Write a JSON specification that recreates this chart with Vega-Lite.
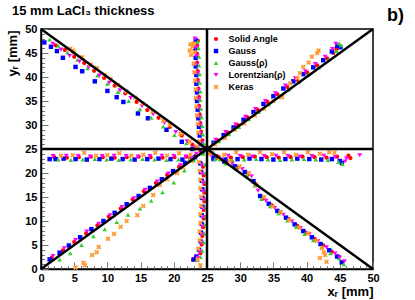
{
"$schema": "https://vega.github.io/schema/vega-lite/v6.json",
"width": 332, "height": 240,
"autosize": {"type": "none"},
"padding": {"left": 41, "top": 29, "right": 42, "bottom": 31},
"background": "white",
"config": {"view": {"stroke": "black", "strokeWidth": 1.5}, "font": "Liberation Sans"},
"title": {"text": "15 mm LaCl₃ thickness", "anchor": "start", "frame": "group", "dx": -29, "dy": 16, "offset": 4, "fontSize": 13, "fontWeight": "bold", "font": "Liberation Sans", "color": "black"},
"datasets": {
"ln": [
{"l":"d1","x":0,"y":0},{"l":"d1","x":50,"y":50},
{"l":"d2","x":0,"y":50},{"l":"d2","x":50,"y":0},
{"l":"v","x":25,"y":0},{"l":"v","x":25,"y":50},
{"l":"h","x":0,"y":25},{"l":"h","x":50,"y":25}
],
"pts": [
{"s":"SA","x":1.6,"y":2.3},{"s":"SA","x":3.3,"y":3.9},{"s":"SA","x":5.0,"y":5.6},{"s":"SA","x":6.8,"y":7.4},{"s":"SA","x":8.5,"y":9.1},{"s":"SA","x":10.2,"y":10.9},{"s":"SA","x":12.0,"y":12.6},{"s":"SA","x":13.8,"y":14.5},{"s":"SA","x":15.5,"y":16.2},{"s":"SA","x":17.3,"y":17.9},{"s":"SA","x":19.0,"y":19.6},{"s":"SA","x":20.8,"y":21.3},{"s":"SA","x":22.5,"y":23.0},
{"s":"SA","x":2.2,"y":46.6},{"s":"SA","x":3.6,"y":45.6},{"s":"SA","x":5.0,"y":44.2},{"s":"SA","x":6.5,"y":42.9},{"s":"SA","x":8.0,"y":41.3},{"s":"SA","x":9.5,"y":39.8},{"s":"SA","x":11.1,"y":38.2},{"s":"SA","x":12.7,"y":36.6},{"s":"SA","x":14.4,"y":34.8},{"s":"SA","x":16.0,"y":33.1},{"s":"SA","x":17.7,"y":31.5},{"s":"SA","x":19.4,"y":29.6},{"s":"SA","x":21.2,"y":27.8},{"s":"SA","x":22.8,"y":25.9},
{"s":"SA","x":26.6,"y":26.8},{"s":"SA","x":28.1,"y":28.4},{"s":"SA","x":29.6,"y":30.0},{"s":"SA","x":31.1,"y":31.6},{"s":"SA","x":32.6,"y":33.2},{"s":"SA","x":34.1,"y":34.8},{"s":"SA","x":35.6,"y":36.4},{"s":"SA","x":37.1,"y":37.9},{"s":"SA","x":38.6,"y":39.4},{"s":"SA","x":40.1,"y":40.9},{"s":"SA","x":41.6,"y":42.4},{"s":"SA","x":43.1,"y":43.9},{"s":"SA","x":44.0,"y":45.0},{"s":"SA","x":44.5,"y":45.8},
{"s":"SA","x":26.4,"y":23.1},{"s":"SA","x":28.0,"y":22.2},{"s":"SA","x":29.6,"y":21.1},{"s":"SA","x":31.2,"y":19.8},{"s":"SA","x":32.3,"y":17.7},{"s":"SA","x":33.4,"y":14.7},{"s":"SA","x":34.7,"y":13.3},{"s":"SA","x":36.0,"y":11.8},{"s":"SA","x":37.3,"y":10.4},{"s":"SA","x":38.6,"y":9.0},{"s":"SA","x":39.9,"y":7.6},{"s":"SA","x":41.2,"y":6.3},{"s":"SA","x":42.5,"y":4.9},{"s":"SA","x":43.8,"y":3.6},{"s":"SA","x":44.8,"y":2.6},
{"s":"SA","x":2.0,"y":23.3},{"s":"SA","x":3.9,"y":23.2},{"s":"SA","x":5.7,"y":23.3},{"s":"SA","x":7.5,"y":23.4},{"s":"SA","x":9.3,"y":23.3},{"s":"SA","x":11.1,"y":23.2},{"s":"SA","x":12.9,"y":23.3},{"s":"SA","x":14.7,"y":23.4},{"s":"SA","x":16.5,"y":23.3},{"s":"SA","x":18.3,"y":23.2},{"s":"SA","x":20.1,"y":23.3},{"s":"SA","x":21.9,"y":23.4},{"s":"SA","x":23.3,"y":23.6},
{"s":"SA","x":26.8,"y":23.3},{"s":"SA","x":28.6,"y":23.2},{"s":"SA","x":30.4,"y":23.3},{"s":"SA","x":32.2,"y":23.4},{"s":"SA","x":34.0,"y":23.3},{"s":"SA","x":35.8,"y":23.2},{"s":"SA","x":37.6,"y":23.3},{"s":"SA","x":39.4,"y":23.4},{"s":"SA","x":41.2,"y":23.3},{"s":"SA","x":43.0,"y":23.2},{"s":"SA","x":44.6,"y":23.4},{"s":"SA","x":46.3,"y":23.6},{"s":"SA","x":46.6,"y":23.1},
{"s":"SA","x":24.3,"y":26.8},{"s":"SA","x":24.1,"y":28.6},{"s":"SA","x":24.0,"y":30.4},{"s":"SA","x":23.9,"y":32.2},{"s":"SA","x":23.8,"y":34.0},{"s":"SA","x":23.8,"y":35.8},{"s":"SA","x":23.7,"y":37.6},{"s":"SA","x":23.6,"y":39.4},{"s":"SA","x":23.6,"y":41.2},{"s":"SA","x":23.5,"y":43.0},{"s":"SA","x":23.5,"y":44.8},{"s":"SA","x":23.5,"y":46.6},{"s":"SA","x":23.6,"y":47.6},
{"s":"SA","x":24.4,"y":21.3},{"s":"SA","x":24.5,"y":19.5},{"s":"SA","x":24.6,"y":17.7},{"s":"SA","x":24.6,"y":15.9},{"s":"SA","x":24.6,"y":14.1},{"s":"SA","x":24.5,"y":12.3},{"s":"SA","x":24.5,"y":10.5},{"s":"SA","x":24.4,"y":8.7},{"s":"SA","x":24.3,"y":6.9},{"s":"SA","x":24.2,"y":5.1},{"s":"SA","x":24.0,"y":3.3},{"s":"SA","x":23.3,"y":2.4},{"s":"SA","x":22.9,"y":1.9},
{"s":"SA","x":24.0,"y":24.6},
{"s":"G","x":1.3,"y":2.0},{"s":"G","x":2.8,"y":3.4},{"s":"G","x":4.2,"y":4.9},{"s":"G","x":5.9,"y":6.6},{"s":"G","x":7.6,"y":8.3},{"s":"G","x":9.4,"y":10.0},{"s":"G","x":11.1,"y":11.7},{"s":"G","x":12.9,"y":13.5},{"s":"G","x":14.7,"y":15.2},{"s":"G","x":16.4,"y":16.9},{"s":"G","x":18.2,"y":18.7},{"s":"G","x":19.9,"y":20.4},{"s":"G","x":21.7,"y":22.1},{"s":"G","x":23.2,"y":23.3},
{"s":"G","x":0.5,"y":47.2},{"s":"G","x":1.5,"y":46.3},{"s":"G","x":2.4,"y":45.4},{"s":"G","x":3.3,"y":44.0},{"s":"G","x":5.2,"y":42.1},{"s":"G","x":6.2,"y":41.2},{"s":"G","x":8.1,"y":39.1},{"s":"G","x":10.0,"y":37.1},{"s":"G","x":11.4,"y":35.8},{"s":"G","x":12.4,"y":34.8},{"s":"G","x":14.6,"y":32.4},{"s":"G","x":16.1,"y":31.4},{"s":"G","x":18.9,"y":29.0},{"s":"G","x":21.2,"y":26.5},{"s":"G","x":22.8,"y":25.0},
{"s":"G","x":26.0,"y":26.3},{"s":"G","x":27.5,"y":27.9},{"s":"G","x":29.0,"y":29.5},{"s":"G","x":30.5,"y":31.1},{"s":"G","x":32.0,"y":32.7},{"s":"G","x":33.5,"y":34.4},{"s":"G","x":35.0,"y":36.0},{"s":"G","x":36.5,"y":37.6},{"s":"G","x":38.0,"y":39.1},{"s":"G","x":39.5,"y":40.6},{"s":"G","x":41.0,"y":42.0},{"s":"G","x":42.5,"y":43.5},{"s":"G","x":43.8,"y":45.3},{"s":"G","x":44.6,"y":46.5},{"s":"G","x":45.1,"y":46.2},
{"s":"G","x":26.0,"y":23.2},{"s":"G","x":27.6,"y":22.4},{"s":"G","x":29.2,"y":21.4},{"s":"G","x":30.7,"y":20.2},{"s":"G","x":32.0,"y":18.3},{"s":"G","x":33.0,"y":15.2},{"s":"G","x":34.3,"y":13.6},{"s":"G","x":35.6,"y":12.1},{"s":"G","x":36.9,"y":10.7},{"s":"G","x":38.2,"y":9.3},{"s":"G","x":39.5,"y":7.9},{"s":"G","x":40.8,"y":6.6},{"s":"G","x":42.1,"y":5.2},{"s":"G","x":43.4,"y":3.9},{"s":"G","x":44.6,"y":2.6},{"s":"G","x":45.3,"y":1.4},
{"s":"G","x":1.3,"y":22.9},{"s":"G","x":2.2,"y":22.9},{"s":"G","x":3.4,"y":23.0},{"s":"G","x":5.2,"y":22.9},{"s":"G","x":6.9,"y":22.8},{"s":"G","x":8.8,"y":22.9},{"s":"G","x":10.6,"y":23.0},{"s":"G","x":12.3,"y":22.9},{"s":"G","x":14.1,"y":22.8},{"s":"G","x":16.0,"y":22.9},{"s":"G","x":17.7,"y":23.0},{"s":"G","x":19.5,"y":22.9},{"s":"G","x":21.3,"y":22.8},{"s":"G","x":22.9,"y":23.0},
{"s":"G","x":26.0,"y":22.9},{"s":"G","x":27.8,"y":22.8},{"s":"G","x":29.6,"y":22.9},{"s":"G","x":31.4,"y":23.0},{"s":"G","x":33.2,"y":22.9},{"s":"G","x":35.0,"y":22.8},{"s":"G","x":36.8,"y":22.9},{"s":"G","x":38.6,"y":23.0},{"s":"G","x":40.4,"y":22.9},{"s":"G","x":42.2,"y":22.8},{"s":"G","x":43.8,"y":22.9},{"s":"G","x":45.0,"y":22.5},{"s":"G","x":45.3,"y":22.1},
{"s":"G","x":24.0,"y":26.0},{"s":"G","x":23.9,"y":27.8},{"s":"G","x":23.8,"y":29.6},{"s":"G","x":23.7,"y":31.4},{"s":"G","x":23.6,"y":33.2},{"s":"G","x":23.5,"y":35.0},{"s":"G","x":23.5,"y":36.8},{"s":"G","x":23.4,"y":38.6},{"s":"G","x":23.4,"y":40.4},{"s":"G","x":23.3,"y":42.2},{"s":"G","x":23.3,"y":44.0},{"s":"G","x":23.2,"y":45.8},{"s":"G","x":23.3,"y":47.6},
{"s":"G","x":24.0,"y":22.0},{"s":"G","x":24.1,"y":20.2},{"s":"G","x":24.2,"y":18.4},{"s":"G","x":24.3,"y":16.6},{"s":"G","x":24.3,"y":14.8},{"s":"G","x":24.3,"y":13.0},{"s":"G","x":24.2,"y":11.2},{"s":"G","x":24.2,"y":9.4},{"s":"G","x":24.1,"y":7.6},{"s":"G","x":24.0,"y":5.8},{"s":"G","x":23.8,"y":4.0},{"s":"G","x":23.4,"y":2.6},{"s":"G","x":23.0,"y":2.0},
{"s":"G","x":24.3,"y":24.3},
{"s":"Gr","x":2.8,"y":2.0},{"s":"Gr","x":4.4,"y":3.3},{"s":"Gr","x":6.1,"y":5.0},{"s":"Gr","x":7.9,"y":6.8},{"s":"Gr","x":9.6,"y":8.3},{"s":"Gr","x":11.4,"y":9.8},{"s":"Gr","x":13.1,"y":11.3},{"s":"Gr","x":14.9,"y":12.6},{"s":"Gr","x":16.6,"y":14.2},{"s":"Gr","x":18.3,"y":16.0},{"s":"Gr","x":20.0,"y":18.0},{"s":"Gr","x":21.6,"y":20.5},{"s":"Gr","x":23.0,"y":22.6},
{"s":"Gr","x":1.3,"y":47.8},{"s":"Gr","x":2.6,"y":46.5},{"s":"Gr","x":4.0,"y":45.1},{"s":"Gr","x":5.5,"y":43.6},{"s":"Gr","x":7.0,"y":41.8},{"s":"Gr","x":8.5,"y":40.3},{"s":"Gr","x":10.0,"y":38.6},{"s":"Gr","x":11.6,"y":36.9},{"s":"Gr","x":13.2,"y":35.0},{"s":"Gr","x":14.9,"y":33.3},{"s":"Gr","x":16.6,"y":31.5},{"s":"Gr","x":18.4,"y":29.7},{"s":"Gr","x":20.1,"y":27.9},{"s":"Gr","x":21.9,"y":26.2},{"s":"Gr","x":23.2,"y":25.1},
{"s":"Gr","x":26.8,"y":26.6},{"s":"Gr","x":28.3,"y":28.1},{"s":"Gr","x":29.8,"y":29.6},{"s":"Gr","x":31.3,"y":31.2},{"s":"Gr","x":32.8,"y":32.7},{"s":"Gr","x":34.3,"y":34.3},{"s":"Gr","x":35.8,"y":35.9},{"s":"Gr","x":37.3,"y":37.4},{"s":"Gr","x":38.8,"y":38.9},{"s":"Gr","x":40.3,"y":40.5},{"s":"Gr","x":41.8,"y":42.0},{"s":"Gr","x":43.3,"y":43.6},{"s":"Gr","x":44.5,"y":45.4},{"s":"Gr","x":45.2,"y":46.6},{"s":"Gr","x":44.9,"y":47.0},
{"s":"Gr","x":26.2,"y":22.9},{"s":"Gr","x":27.8,"y":22.0},{"s":"Gr","x":29.4,"y":21.0},{"s":"Gr","x":31.0,"y":19.6},{"s":"Gr","x":32.2,"y":17.4},{"s":"Gr","x":33.2,"y":14.6},{"s":"Gr","x":34.5,"y":13.1},{"s":"Gr","x":35.8,"y":11.6},{"s":"Gr","x":37.1,"y":10.1},{"s":"Gr","x":38.4,"y":8.8},{"s":"Gr","x":39.7,"y":7.3},{"s":"Gr","x":41.0,"y":6.0},{"s":"Gr","x":42.3,"y":4.6},{"s":"Gr","x":43.6,"y":3.3},{"s":"Gr","x":44.9,"y":2.2},{"s":"Gr","x":45.6,"y":1.0},
{"s":"Gr","x":2.6,"y":22.8},{"s":"Gr","x":4.5,"y":22.7},{"s":"Gr","x":6.3,"y":22.8},{"s":"Gr","x":8.1,"y":22.9},{"s":"Gr","x":9.9,"y":22.8},{"s":"Gr","x":11.7,"y":22.7},{"s":"Gr","x":13.5,"y":22.8},{"s":"Gr","x":15.3,"y":22.9},{"s":"Gr","x":17.1,"y":22.8},{"s":"Gr","x":18.9,"y":22.7},{"s":"Gr","x":20.7,"y":22.8},{"s":"Gr","x":22.4,"y":22.9},
{"s":"Gr","x":27.0,"y":22.8},{"s":"Gr","x":28.8,"y":22.7},{"s":"Gr","x":30.6,"y":22.8},{"s":"Gr","x":32.4,"y":22.9},{"s":"Gr","x":34.2,"y":22.8},{"s":"Gr","x":36.0,"y":22.7},{"s":"Gr","x":37.8,"y":22.8},{"s":"Gr","x":39.6,"y":22.9},{"s":"Gr","x":41.4,"y":22.8},{"s":"Gr","x":43.2,"y":22.7},{"s":"Gr","x":44.8,"y":22.3},{"s":"Gr","x":45.4,"y":21.9},
{"s":"Gr","x":24.5,"y":26.2},{"s":"Gr","x":24.4,"y":28.0},{"s":"Gr","x":24.3,"y":29.8},{"s":"Gr","x":24.2,"y":31.6},{"s":"Gr","x":24.1,"y":33.4},{"s":"Gr","x":24.0,"y":35.2},{"s":"Gr","x":24.0,"y":37.0},{"s":"Gr","x":23.9,"y":38.8},{"s":"Gr","x":23.9,"y":40.6},{"s":"Gr","x":23.8,"y":42.4},{"s":"Gr","x":23.8,"y":44.2},{"s":"Gr","x":23.7,"y":46.0},{"s":"Gr","x":23.6,"y":47.4},
{"s":"Gr","x":24.7,"y":21.8},{"s":"Gr","x":24.8,"y":20.0},{"s":"Gr","x":24.9,"y":18.2},{"s":"Gr","x":24.9,"y":16.4},{"s":"Gr","x":24.9,"y":14.6},{"s":"Gr","x":24.8,"y":12.8},{"s":"Gr","x":24.8,"y":11.0},{"s":"Gr","x":24.7,"y":9.2},{"s":"Gr","x":24.6,"y":7.4},{"s":"Gr","x":24.5,"y":5.6},{"s":"Gr","x":24.3,"y":3.8},{"s":"Gr","x":24.0,"y":2.5},{"s":"Gr","x":23.5,"y":1.8},
{"s":"Gr","x":24.4,"y":24.0},
{"s":"Lr","x":1.8,"y":2.7},{"s":"Lr","x":3.5,"y":4.3},{"s":"Lr","x":5.2,"y":6.0},{"s":"Lr","x":6.9,"y":7.8},{"s":"Lr","x":8.7,"y":9.4},{"s":"Lr","x":10.4,"y":11.2},{"s":"Lr","x":12.2,"y":12.9},{"s":"Lr","x":14.0,"y":14.7},{"s":"Lr","x":15.7,"y":16.5},{"s":"Lr","x":17.5,"y":18.2},{"s":"Lr","x":19.2,"y":19.9},{"s":"Lr","x":21.0,"y":21.6},{"s":"Lr","x":22.7,"y":23.2},
{"s":"Lr","x":1.8,"y":46.9},{"s":"Lr","x":3.0,"y":45.7},{"s":"Lr","x":4.3,"y":44.4},{"s":"Lr","x":5.8,"y":43.2},{"s":"Lr","x":7.2,"y":42.0},{"s":"Lr","x":8.8,"y":40.3},{"s":"Lr","x":10.3,"y":38.8},{"s":"Lr","x":11.9,"y":37.2},{"s":"Lr","x":13.5,"y":35.6},{"s":"Lr","x":15.2,"y":33.9},{"s":"Lr","x":16.9,"y":32.2},{"s":"Lr","x":18.6,"y":30.4},{"s":"Lr","x":20.3,"y":28.5},{"s":"Lr","x":22.0,"y":26.6},{"s":"Lr","x":23.3,"y":25.3},
{"s":"Lr","x":26.3,"y":26.9},{"s":"Lr","x":27.8,"y":28.5},{"s":"Lr","x":29.3,"y":30.1},{"s":"Lr","x":30.8,"y":31.7},{"s":"Lr","x":32.3,"y":33.3},{"s":"Lr","x":33.8,"y":35.0},{"s":"Lr","x":35.3,"y":36.6},{"s":"Lr","x":36.8,"y":38.2},{"s":"Lr","x":38.3,"y":39.7},{"s":"Lr","x":39.8,"y":41.2},{"s":"Lr","x":41.3,"y":42.7},{"s":"Lr","x":42.8,"y":44.2},{"s":"Lr","x":43.9,"y":45.8},{"s":"Lr","x":44.4,"y":46.9},
{"s":"Lr","x":25.6,"y":23.6},{"s":"Lr","x":27.2,"y":22.8},{"s":"Lr","x":28.8,"y":21.9},{"s":"Lr","x":30.3,"y":20.8},{"s":"Lr","x":31.7,"y":19.3},{"s":"Lr","x":32.7,"y":16.3},{"s":"Lr","x":33.9,"y":14.2},{"s":"Lr","x":35.2,"y":12.7},{"s":"Lr","x":36.5,"y":11.3},{"s":"Lr","x":37.8,"y":9.9},{"s":"Lr","x":39.1,"y":8.5},{"s":"Lr","x":40.4,"y":7.2},{"s":"Lr","x":41.7,"y":5.8},{"s":"Lr","x":43.0,"y":4.5},{"s":"Lr","x":44.3,"y":3.2},{"s":"Lr","x":45.0,"y":2.4},{"s":"Lr","x":45.7,"y":1.6},
{"s":"Lr","x":1.8,"y":23.5},{"s":"Lr","x":3.8,"y":23.6},{"s":"Lr","x":5.6,"y":23.5},{"s":"Lr","x":7.4,"y":23.4},{"s":"Lr","x":9.2,"y":23.5},{"s":"Lr","x":11.0,"y":23.6},{"s":"Lr","x":12.8,"y":23.5},{"s":"Lr","x":14.6,"y":23.4},{"s":"Lr","x":16.4,"y":23.5},{"s":"Lr","x":18.2,"y":23.6},{"s":"Lr","x":20.0,"y":23.5},{"s":"Lr","x":21.8,"y":23.4},{"s":"Lr","x":23.4,"y":24.0},
{"s":"Lr","x":26.4,"y":23.5},{"s":"Lr","x":28.2,"y":23.6},{"s":"Lr","x":30.0,"y":23.5},{"s":"Lr","x":31.8,"y":23.4},{"s":"Lr","x":33.6,"y":23.5},{"s":"Lr","x":35.4,"y":23.6},{"s":"Lr","x":37.2,"y":23.5},{"s":"Lr","x":39.0,"y":23.4},{"s":"Lr","x":40.8,"y":23.5},{"s":"Lr","x":42.6,"y":23.6},{"s":"Lr","x":44.3,"y":23.3},{"s":"Lr","x":45.8,"y":22.4},{"s":"Lr","x":48.0,"y":23.7},{"s":"Lr","x":46.0,"y":23.0},
{"s":"Lr","x":24.2,"y":26.4},{"s":"Lr","x":24.0,"y":28.2},{"s":"Lr","x":23.9,"y":30.0},{"s":"Lr","x":23.8,"y":31.8},{"s":"Lr","x":23.8,"y":33.6},{"s":"Lr","x":23.7,"y":35.4},{"s":"Lr","x":23.6,"y":37.2},{"s":"Lr","x":23.5,"y":39.0},{"s":"Lr","x":23.5,"y":40.8},{"s":"Lr","x":23.4,"y":42.6},{"s":"Lr","x":23.4,"y":44.4},{"s":"Lr","x":23.3,"y":46.2},{"s":"Lr","x":23.2,"y":48.0},
{"s":"Lr","x":24.2,"y":21.6},{"s":"Lr","x":24.3,"y":19.8},{"s":"Lr","x":24.4,"y":18.0},{"s":"Lr","x":24.5,"y":16.2},{"s":"Lr","x":24.5,"y":14.4},{"s":"Lr","x":24.4,"y":12.6},{"s":"Lr","x":24.4,"y":10.8},{"s":"Lr","x":24.3,"y":9.0},{"s":"Lr","x":24.2,"y":7.2},{"s":"Lr","x":24.1,"y":5.4},{"s":"Lr","x":23.9,"y":3.6},{"s":"Lr","x":23.6,"y":2.3},
{"s":"Lr","x":24.6,"y":24.9},
{"s":"K","x":5.2,"y":0.3},{"s":"K","x":6.4,"y":1.3},{"s":"K","x":6.6,"y":0.8},{"s":"K","x":7.7,"y":2.9},{"s":"K","x":8.4,"y":3.5},{"s":"K","x":8.7,"y":4.6},{"s":"K","x":10.1,"y":6.3},{"s":"K","x":11.0,"y":7.3},{"s":"K","x":12.0,"y":8.8},{"s":"K","x":12.9,"y":10.0},{"s":"K","x":14.5,"y":11.2},{"s":"K","x":15.4,"y":13.1},{"s":"K","x":16.9,"y":15.4},{"s":"K","x":17.9,"y":17.5},{"s":"K","x":19.0,"y":18.7},{"s":"K","x":20.5,"y":20.0},{"s":"K","x":21.4,"y":21.2},{"s":"K","x":22.6,"y":22.5},
{"s":"K","x":4.4,"y":45.9},{"s":"K","x":4.8,"y":45.5},{"s":"K","x":5.0,"y":45.1},{"s":"K","x":6.2,"y":44.1},{"s":"K","x":7.4,"y":42.6},{"s":"K","x":8.4,"y":41.9},{"s":"K","x":9.6,"y":40.4},{"s":"K","x":10.5,"y":39.6},{"s":"K","x":11.6,"y":38.3},{"s":"K","x":12.9,"y":37.0},{"s":"K","x":14.2,"y":35.7},{"s":"K","x":15.3,"y":34.5},{"s":"K","x":16.8,"y":32.8},{"s":"K","x":18.4,"y":30.9},{"s":"K","x":19.4,"y":30.0},{"s":"K","x":21.0,"y":28.2},{"s":"K","x":22.4,"y":26.5},{"s":"K","x":23.5,"y":25.5},
{"s":"K","x":26.2,"y":26.0},{"s":"K","x":27.7,"y":27.3},{"s":"K","x":29.2,"y":29.0},{"s":"K","x":30.6,"y":30.3},{"s":"K","x":32.2,"y":32.0},{"s":"K","x":33.6,"y":33.4},{"s":"K","x":35.0,"y":35.0},{"s":"K","x":36.3,"y":35.8},{"s":"K","x":37.5,"y":38.7},{"s":"K","x":38.6,"y":39.8},{"s":"K","x":39.0,"y":40.8},{"s":"K","x":39.5,"y":42.1},{"s":"K","x":40.3,"y":43.0},{"s":"K","x":40.8,"y":44.2},{"s":"K","x":41.6,"y":45.0},{"s":"K","x":41.8,"y":45.5},
{"s":"K","x":25.3,"y":24.0},{"s":"K","x":26.8,"y":23.3},{"s":"K","x":28.4,"y":22.5},{"s":"K","x":29.9,"y":21.4},{"s":"K","x":31.3,"y":20.0},{"s":"K","x":32.5,"y":17.4},{"s":"K","x":33.6,"y":15.0},{"s":"K","x":34.9,"y":13.0},{"s":"K","x":36.1,"y":11.9},{"s":"K","x":37.4,"y":10.2},{"s":"K","x":38.9,"y":8.6},{"s":"K","x":40.2,"y":7.4},{"s":"K","x":41.5,"y":5.9},{"s":"K","x":42.3,"y":4.4},{"s":"K","x":42.8,"y":2.9},{"s":"K","x":42.0,"y":2.3},{"s":"K","x":43.0,"y":1.5},{"s":"K","x":42.6,"y":3.5},
{"s":"K","x":3.0,"y":23.6},{"s":"K","x":4.8,"y":23.7},{"s":"K","x":6.5,"y":24.2},{"s":"K","x":8.3,"y":23.6},{"s":"K","x":10.0,"y":23.7},{"s":"K","x":11.8,"y":24.1},{"s":"K","x":13.6,"y":23.6},{"s":"K","x":15.4,"y":23.8},{"s":"K","x":17.2,"y":24.2},{"s":"K","x":19.0,"y":23.6},{"s":"K","x":20.8,"y":24.1},{"s":"K","x":22.5,"y":23.8},
{"s":"K","x":25.8,"y":24.2},{"s":"K","x":27.6,"y":23.8},{"s":"K","x":29.4,"y":24.3},{"s":"K","x":31.2,"y":23.8},{"s":"K","x":33.0,"y":24.3},{"s":"K","x":34.8,"y":23.9},{"s":"K","x":36.6,"y":24.3},{"s":"K","x":38.4,"y":23.8},{"s":"K","x":40.2,"y":24.3},{"s":"K","x":42.0,"y":24.0},{"s":"K","x":43.4,"y":24.4},{"s":"K","x":44.2,"y":24.2},
{"s":"K","x":23.8,"y":26.6},{"s":"K","x":23.7,"y":28.4},{"s":"K","x":23.6,"y":30.2},{"s":"K","x":23.5,"y":32.0},{"s":"K","x":23.4,"y":33.8},{"s":"K","x":23.3,"y":35.6},{"s":"K","x":23.3,"y":37.4},{"s":"K","x":23.2,"y":39.2},{"s":"K","x":23.1,"y":41.0},{"s":"K","x":23.0,"y":42.8},{"s":"K","x":22.6,"y":44.6},{"s":"K","x":22.4,"y":45.5},{"s":"K","x":22.8,"y":46.3},{"s":"K","x":23.0,"y":47.0},{"s":"K","x":22.5,"y":46.8},{"s":"K","x":23.1,"y":45.2},
{"s":"K","x":23.8,"y":22.3},{"s":"K","x":23.9,"y":20.4},{"s":"K","x":24.0,"y":18.6},{"s":"K","x":24.0,"y":16.8},{"s":"K","x":24.1,"y":15.0},{"s":"K","x":24.1,"y":13.2},{"s":"K","x":24.0,"y":11.4},{"s":"K","x":24.0,"y":9.6},{"s":"K","x":23.9,"y":7.8},{"s":"K","x":23.9,"y":6.0},{"s":"K","x":23.7,"y":4.2},{"s":"K","x":23.6,"y":2.0},{"s":"K","x":24.0,"y":0.8},
{"s":"K","x":24.5,"y":24.8},{"s":"K","x":25.0,"y":25.3}
]
},
"layer": [
{
"data": {"name": "pts"},
"mark": {"type": "point", "filled": true, "opacity": 1, "strokeWidth": 0},
"encoding": {
"x": {"field": "x", "type": "quantitative", "scale": {"domain": [0, 50], "nice": false, "zero": false},
 "axis": {"title": "xᵣ [mm]", "tickCount": 50, "labelExpr": "datum.value % 5 == 0 ? datum.label : ''", "labelOverlap": false, "labelBound": false, "labelFlush": false,
  "tickSize": {"condition": {"test": "datum.value % 5 == 0", "value": -7}, "value": -3.5},
  "tickColor": "#777", "tickWidth": 1, "domainColor": "black", "domainWidth": 1.5, "grid": false,
  "labelFont": "Liberation Sans", "labelFontWeight": "bold", "labelFontSize": 11, "labelColor": "black", "labelPadding": 10,
  "titleFont": "Liberation Sans", "titleFontSize": 13, "titleFontWeight": "bold", "titleColor": "black",
  "titleAnchor": "end", "titleAlign": "right", "titleX": 332, "titleY": 26, "titleBaseline": "alphabetic"}},
"y": {"field": "y", "type": "quantitative", "scale": {"domain": [0, 50], "nice": false, "zero": false},
 "axis": {"title": "yᵣ [mm]", "tickCount": 50, "labelExpr": "datum.value % 5 == 0 ? datum.label : ''", "labelOverlap": false, "labelBound": false, "labelFlush": false,
  "tickSize": {"condition": {"test": "datum.value % 5 == 0", "value": -7}, "value": -3.5},
  "tickColor": "#777", "tickWidth": 1, "domainColor": "black", "domainWidth": 1.5, "grid": false,
  "labelFont": "Liberation Sans", "labelFontWeight": "bold", "labelFontSize": 11, "labelColor": "black", "labelPadding": 11,
  "titleFont": "Liberation Sans", "titleFontSize": 13, "titleFontWeight": "bold", "titleColor": "black",
  "titleAngle": -90, "titleAnchor": "end", "titleAlign": "right", "titleX": -25, "titleY": 1, "titleBaseline": "alphabetic"}},
"color": {"field": "s", "type": "nominal",
 "scale": {"domain": ["SA", "G", "Gr", "Lr", "K"], "range": ["#ff0000", "#0000ff", "#33cc33", "#ff00ff", "#ff9933"]},
 "legend": {"orient": "none", "legendX": 170.5, "legendY": 5.5, "title": null, "padding": 0,
  "labelExpr": "({'SA':'Solid Angle','G':'Gauss','Gr':'Gauss(ρ)','Lr':'Lorentzian(ρ)','K':'Keras'})[datum.label]",
  "labelFont": "Liberation Sans", "labelFontWeight": "bold", "labelFontSize": 9, "labelColor": "black",
  "symbolSize": 25, "rowPadding": 2, "labelOffset": 8, "symbolStrokeWidth": 0}},
"shape": {"field": "s", "type": "nominal",
 "scale": {"domain": ["SA", "G", "Gr", "Lr", "K"], "range": ["circle", "square", "triangle-up", "triangle-down", "M-1,-0.5L-0.5,-1L0,-0.5L0.5,-1L1,-0.5L0.5,0L1,0.5L0.5,1L0,0.5L-0.5,1L-1,0.5L-0.5,0Z"]}},
"size": {"field": "s", "type": "nominal", "scale": {"domain": ["SA", "G", "Gr", "Lr", "K"], "range": [18, 25, 24, 26, 25]}, "legend": null}
}
},
{
"data": {"name": "ln"},
"mark": {"type": "line", "color": "black", "strokeWidth": 2.5},
"encoding": {
"x": {"field": "x", "type": "quantitative"},
"y": {"field": "y", "type": "quantitative",
 "axis": {"orient": "right", "title": "b)", "labels": false, "ticks": false, "domain": false, "grid": false,
  "titleAngle": 0, "titleX": 13.5, "titleY": -9, "titleAlign": "left", "titleBaseline": "alphabetic",
  "titleFont": "Liberation Sans", "titleFontSize": 18, "titleFontWeight": "bold", "titleColor": "black"}},
"detail": {"field": "l"}
}
}
],
"resolve": {"axis": {"y": "independent"}}
}
